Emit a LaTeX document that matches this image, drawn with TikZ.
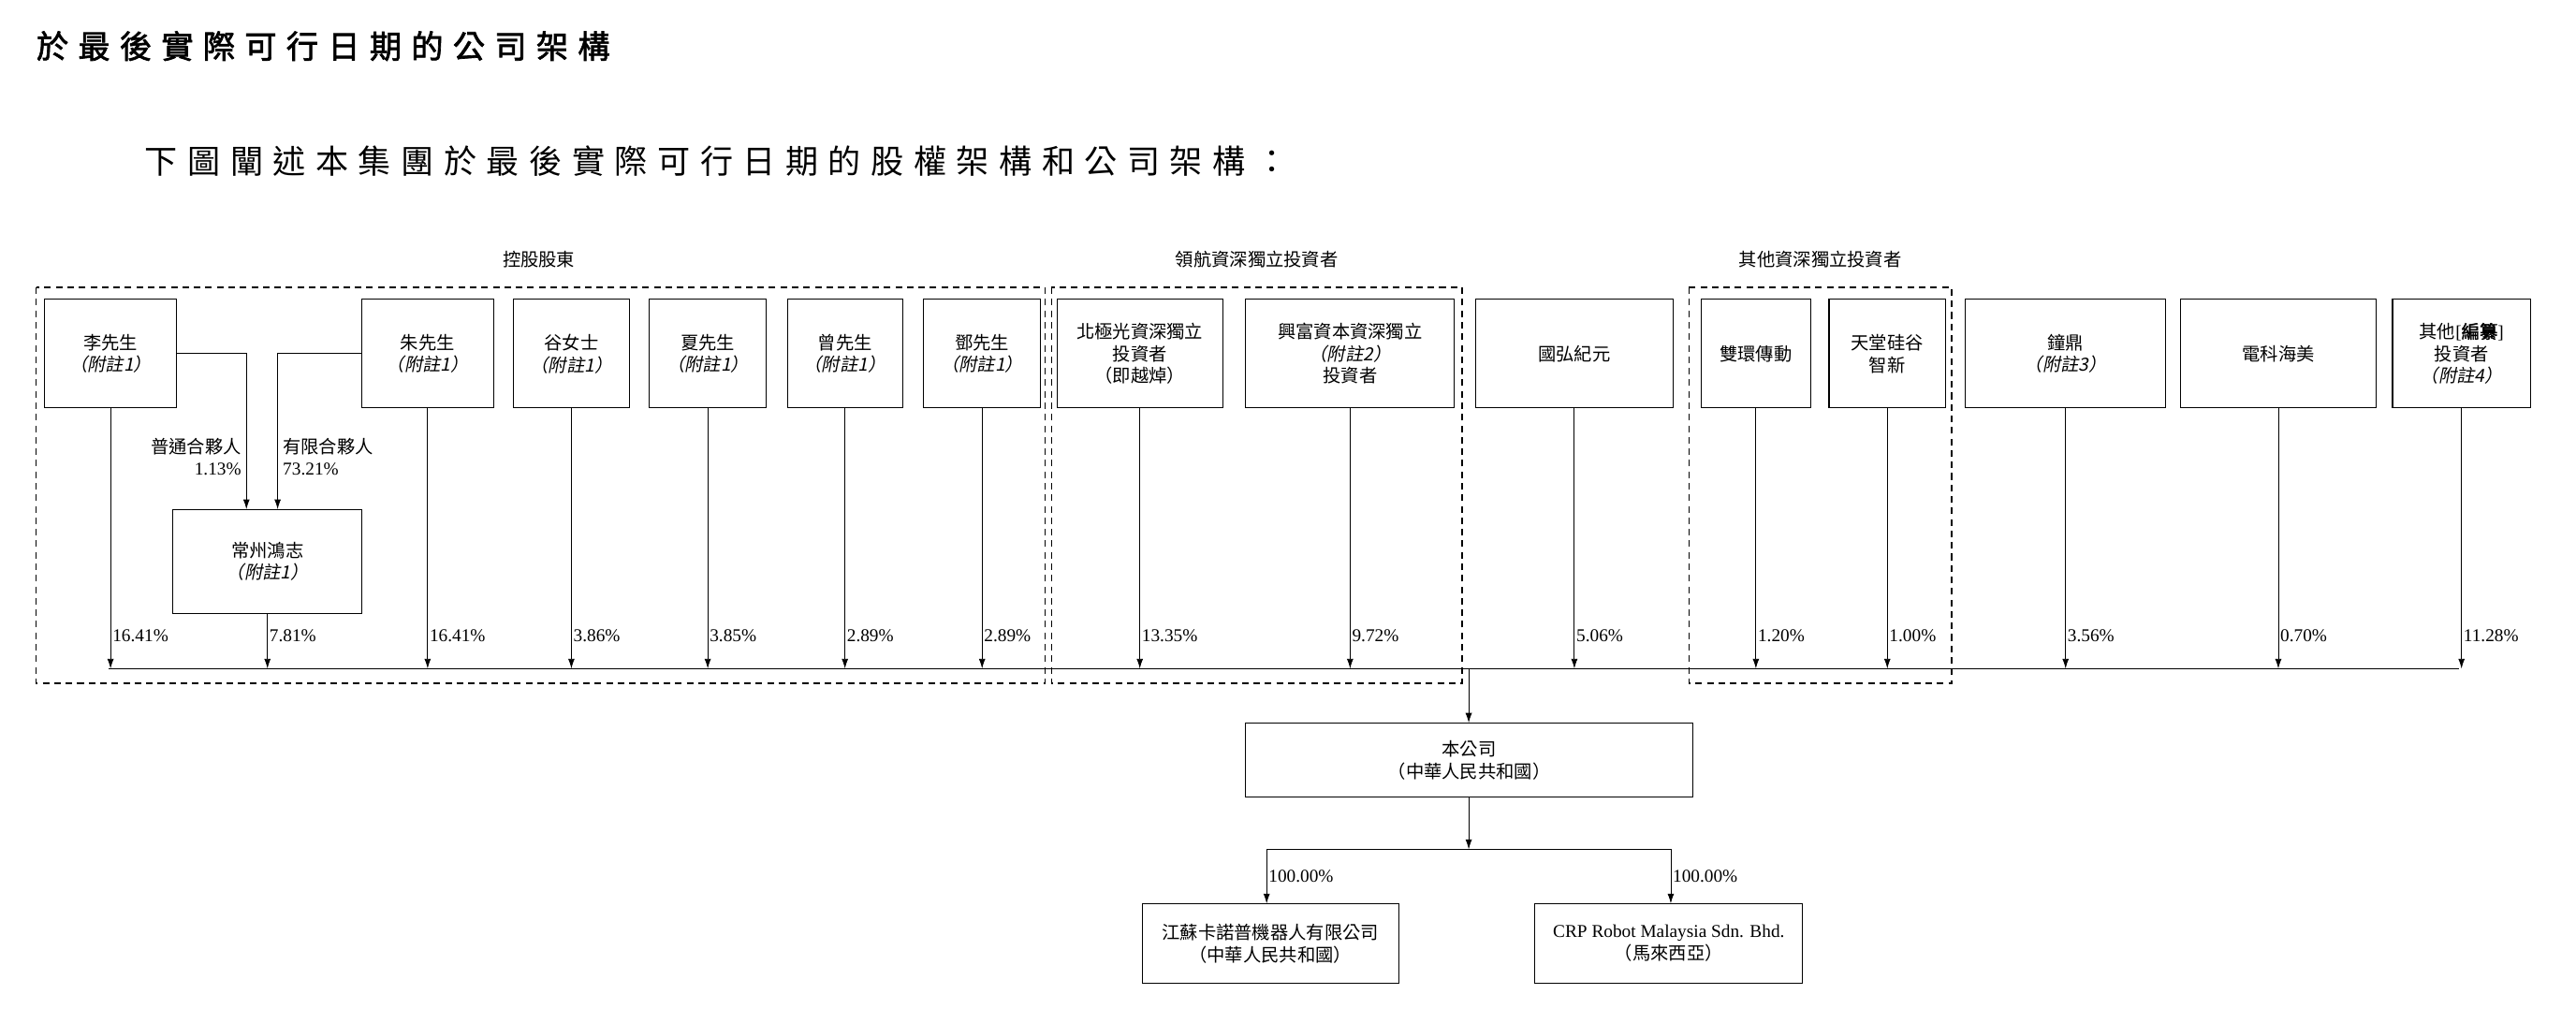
\documentclass[tikz,border=0pt]{standalone}
\usepackage{fontspec}
\setmainfont{Liberation Serif}
\newfontfamily\cjk{Noto Sans CJK TC}
\newfontfamily\cjki[FakeSlant=0.2]{Noto Sans CJK TC}
\newfontfamily\cjkbb[FakeBold=2]{Noto Sans CJK TC}
\newfontfamily\cjkb[FakeBold=2,LetterSpace=30]{Noto Sans CJK TC}
\newfontfamily\cjksp[LetterSpace=30]{Noto Sans CJK TC}
\usetikzlibrary{arrows.meta}
\newcommand{\nt}[1]{{\cjki（附註#1）}}
\begin{document}
\begin{tikzpicture}[x=1pt,y=-1pt,
  box/.style={draw,line width=0.6pt,anchor=north west,align=center,inner sep=1pt,font=\fontsize{11}{13.5}\selectfont\cjk},
  grp/.style={draw,dashed,line width=0.8pt,dash pattern=on 4pt off 3pt},
  arr/.style={line width=0.5pt,-{Latex[length=6pt,width=4pt]}},
  ln/.style={line width=0.5pt},
  pct/.style={font=\fontsize{11}{12}\selectfont,anchor=west,inner sep=1pt},
  lbl/.style={font=\fontsize{11}{13}\selectfont\cjk,inner sep=0pt}]
\useasboundingbox (0,0) rectangle (1568,614);
\node[anchor=west,inner sep=0pt,font=\fontsize{19.5}{22}\selectfont\cjkb] (title) at (22,28) {於最後實際可行日期的公司架構};
\node[anchor=west,inner sep=0pt,font=\fontsize{20}{23}\selectfont\cjksp] (sub) at (88,98) {下圖闡述本集團於最後實際可行日期的股權架構和公司架構：};
\node[lbl] (g1) at (328,158) {控股股東};
\node[lbl] (g2) at (765,158) {領航資深獨立投資者};
\node[lbl] (g3) at (1108,158) {其他資深獨立投資者};
\draw[grp] (22,175) rectangle (636,416);
\draw[grp] (640,175) rectangle (890,416);
\draw[grp] (1028,175) rectangle (1188,416);
% top boxes
\node[box,minimum width=80pt,minimum height=66pt] (li) at (27,182) {李先生\\\nt{1}};
\node[box,minimum width=80pt,minimum height=66pt] (zhu) at (220,182) {朱先生\\\nt{1}};
\node[box,minimum width=71pt,minimum height=66pt] (gu) at (312,182) {谷女士\\\nt{1}};
\node[box,minimum width=71pt,minimum height=66pt] (xia) at (395,182) {夏先生\\\nt{1}};
\node[box,minimum width=70pt,minimum height=66pt] (zeng) at (479,182) {曾先生\\\nt{1}};
\node[box,minimum width=71pt,minimum height=66pt] (deng) at (562,182) {鄧先生\\\nt{1}};
\node[box,minimum width=101pt,minimum height=66pt] (bei) at (643,182) {北極光資深獨立\\投資者\\（即越焯）};
\node[box,minimum width=127pt,minimum height=66pt] (xing) at (758,182) {興富資本資深獨立\\\nt{2}\\投資者};
\node[box,minimum width=120pt,minimum height=66pt] (guo) at (898,182) {國弘紀元};
\node[box,minimum width=67pt,minimum height=66pt] (shuang) at (1035,182) {雙環傳動};
\node[box,minimum width=71pt,minimum height=66pt] (tian) at (1113,182) {天堂硅谷\\智新};
\node[box,minimum width=122pt,minimum height=66pt] (zhong) at (1196,182) {鐘鼎\\\nt{3}};
\node[box,minimum width=119pt,minimum height=66pt] (dian) at (1327,182) {電科海美};
\node[box,minimum width=84pt,minimum height=66pt] (qita) at (1456,182) {其他{\rmfamily[}{\cjkbb 編纂}{\rmfamily]}\\投資者\\\nt{4}};
\node[box,minimum width=115pt,minimum height=63pt] (cz) at (105,310) {常州鴻志\\\nt{1}};
% partner links
\coordinate (czl) at (150,310);
\coordinate (czr) at (169,310);
\draw[arr] (li.east) -| (czl);
\draw[arr] (zhu.west) -| (czr);
\node[lbl,anchor=east,align=right] (gp) at (147,278) {普通合夥人\\{\rmfamily 1.13\%}};
\node[lbl,anchor=west,align=left] (lp) at (172,278) {有限合夥人\\{\rmfamily 73.21\%}};
% bus
\coordinate (busL) at (66,407);
\coordinate (busR) at (1497,407);
\draw[ln] (busL) -- (busR);
\foreach \n/\p in {li/16.41,cz/7.81,zhu/16.41,gu/3.86,xia/3.85,zeng/2.89,deng/2.89,bei/13.35,xing/9.72,guo/5.06,shuang/1.20,tian/1.00,zhong/3.56,dian/0.70,qita/11.28}{
  \draw[arr] (\n.south) -- (\n.south |- busL) node[pct,pos=1,yshift=20pt] {\p\%};
}
% company
\node[box,minimum width=272pt,minimum height=45pt] (co) at (758,440) {本公司\\（中華人民共和國）};
\coordinate (busC) at (894,407);
\draw[arr] (busC) -- (co.north -| busC);
\coordinate (jn) at (894,517);
\draw[arr] (co.south -| jn) -- (jn);
\node[box,minimum width=156pt,minimum height=48pt] (js) at (695,550) {江蘇卡諾普機器人有限公司\\（中華人民共和國）};
\node[box,minimum width=163pt,minimum height=48pt] (crp) at (934,550) {{\rmfamily CRP Robot Malaysia Sdn. Bhd.}\\（馬來西亞）};
\coordinate (jl) at (771,517);
\coordinate (jr) at (1017,517);
\draw[ln] (jl) -- (jr);
\draw[arr] (jl) -- (js.north -| jl) node[pct,midway] {100.00\%};
\draw[arr] (jr) -- (crp.north -| jr) node[pct,midway] {100.00\%};
\end{tikzpicture}
\end{document}
